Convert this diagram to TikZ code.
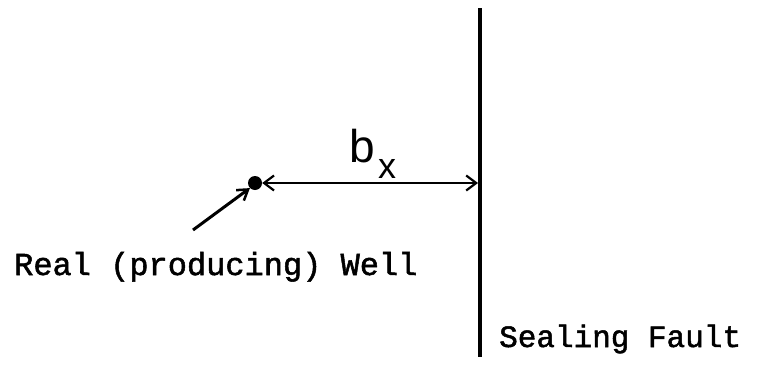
\documentclass[tikz,border=0pt]{standalone}
\usepackage{fontspec}
\setmonofont{Liberation Mono}[BoldFont={Liberation Mono},BoldFeatures={FakeBold=1.6}]
\newfontfamily\lblfont{Liberation Sans}
\usetikzlibrary{arrows.meta}
\tikzset{
  lbl/.style={inner sep=0pt, anchor=base west, font=\ttfamily\bfseries\fontsize{32}{36}\selectfont},
  barb/.style={line width=2.2pt, arrows={Straight Barb[length=10pt,width=15pt,line width=2.2pt]-Straight Barb[length=10pt,width=15pt,line width=2.2pt]}},
  pointer/.style={line width=3pt, -{Straight Barb[length=10pt,width=13pt,line width=2.5pt]}},
}
\begin{document}
\begin{tikzpicture}[x=1pt,y=-1pt]
\useasboundingbox (0,0) rectangle (757,367);
% fault
\coordinate (ftop) at (480,8);
\coordinate (fbot) at (480,357);
\draw[line width=4pt] (ftop) -- (fbot);
% well
\node[circle, fill=black, inner sep=0pt, minimum size=14pt] (well) at (255,183) {};
\coordinate (fhit) at (478,183);
\draw[barb] (well.east) -- (fhit);
% b_x label
\node[inner sep=0pt, anchor=base west, font=\lblfont\fontsize{46}{50}\selectfont] (b) at (349,162) {b};
\node[inner sep=0pt, anchor=base west, font=\lblfont\fontsize{36}{40}\selectfont] (x) at (378,178) {x};
% pointer
\coordinate (ptail) at (193,230);
\draw[pointer] (ptail) -- (well.south west);
% labels
\node[lbl] (real) at (14,275) {Real (producing) Well};
\node[lbl, font=\ttfamily\bfseries\fontsize{31}{36}\selectfont] (fault) at (499,347) {Sealing Fault};
\end{tikzpicture}
\end{document}
